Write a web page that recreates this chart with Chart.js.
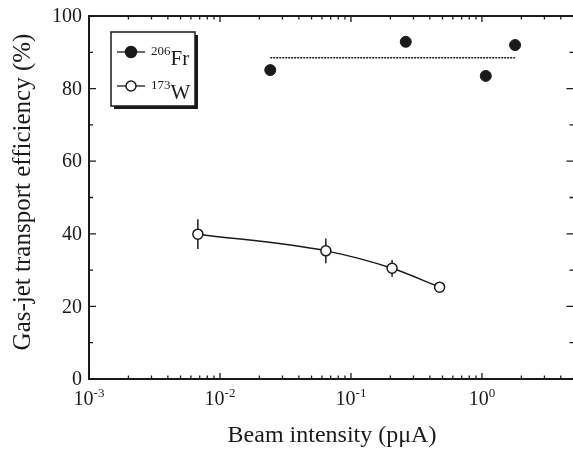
<!DOCTYPE html>
<html>
<head>
<meta charset="utf-8">
<script src="https://cdn.jsdelivr.net/npm/chart.js@4.4.0/dist/chart.umd.min.js"></script>
<style>
  html, body { margin: 0; padding: 0; background: #fff; overflow: hidden; width: 573px; height: 450px; }
  #wrap { width: 580px; height: 450px; }
</style>
</head>
<body>
<div id="wrap"><canvas id="c" width="580" height="450"></canvas></div>
<script>
// ---- Data ----
const frIntensity = [0.0242, 0.262, 1.07, 1.79];
const frEfficiency = [85.1, 92.9, 83.5, 92.0];
const frMeanLevel = 88.5;
const frMeanRange = [0.0242, 1.79];

const wIntensity = [0.00678, 0.0643, 0.206, 0.475];
const wEfficiency = [39.9, 35.3, 30.5, 25.3];
const wError = [4.1, 3.4, 2.3, 0];

const xDecadeExponents = [-3, -2, -1, 0];
const yTickValues = [0, 20, 40, 60, 80, 100];
const yMinorValues = [10, 30, 50, 70, 90];

const xTitle = 'Beam intensity (p\u03BCA)';
const yTitle = 'Gas-jet transport efficiency (%)';
const legendItems = [
  { mass: '206', symbol: 'Fr', filled: true },
  { mass: '173', symbol: 'W', filled: false }
];

const FONT = '"Liberation Serif", "Times New Roman", serif';
const INK = '#1a1a1a';

const errorBarPlugin = {
  id: 'errorBars',
  beforeDatasetsDraw(chart) {
    const { ctx, scales: { x, y } } = chart;
    ctx.save();
    ctx.strokeStyle = INK;
    ctx.lineWidth = 1.5;
    wIntensity.forEach((v, i) => {
      if (!wError[i]) return;
      const px = x.getPixelForValue(v);
      ctx.beginPath();
      ctx.moveTo(px, y.getPixelForValue(wEfficiency[i] - wError[i]));
      ctx.lineTo(px, y.getPixelForValue(wEfficiency[i] + wError[i]));
      ctx.stroke();
    });
    ctx.restore();
  }
};

const axesPlugin = {
  id: 'frameAxes',
  afterDraw(chart) {
    const { ctx, chartArea: a, scales: { x, y } } = chart;
    ctx.save();
    ctx.strokeStyle = INK;
    ctx.fillStyle = INK;
    // frame: top, left, bottom (right spine lies beyond the visible window)
    ctx.lineWidth = 2;
    ctx.beginPath();
    ctx.moveTo(a.right + 2, a.top);
    ctx.lineTo(a.left, a.top);
    ctx.lineTo(a.left, a.bottom);
    ctx.lineTo(a.right + 2, a.bottom);
    ctx.stroke();
    ctx.lineWidth = 1.3;
    // x ticks (major + minor), bottom and top
    const xmin = x.min, xmax = x.max;
    for (let e = -3; e <= 1; e++) {
      for (let m = 1; m <= 9; m++) {
        const v = m * Math.pow(10, e);
        if (v < xmin * 0.999 || v > xmax * 1.001) continue;
        const px = x.getPixelForValue(v);
        const len = m === 1 ? 6 : 3.5;
        ctx.beginPath();
        ctx.moveTo(px, a.bottom); ctx.lineTo(px, a.bottom - len);
        ctx.moveTo(px, a.top); ctx.lineTo(px, a.top + len);
        ctx.stroke();
      }
    }
    // y ticks
    const drawY = (v, len) => {
      const py = y.getPixelForValue(v);
      ctx.beginPath();
      ctx.moveTo(a.left, py); ctx.lineTo(a.left + len, py);
      ctx.moveTo(a.right, py); ctx.lineTo(a.right - len, py);
      ctx.stroke();
    };
    yTickValues.forEach(v => drawY(v, 7));
    yMinorValues.forEach(v => drawY(v, 4));
    // y tick labels
    ctx.font = '20px ' + FONT;
    ctx.textAlign = 'right';
    ctx.textBaseline = 'middle';
    yTickValues.forEach(v => ctx.fillText(String(v), a.left - 7, y.getPixelForValue(v) + 1));
    // x tick labels 10^n
    ctx.textAlign = 'left';
    ctx.textBaseline = 'alphabetic';
    xDecadeExponents.forEach(e => {
      const px = x.getPixelForValue(Math.pow(10, e));
      ctx.font = '20px ' + FONT;
      const w1 = ctx.measureText('10').width;
      ctx.font = '13px ' + FONT;
      const exp = String(e);
      const w2 = ctx.measureText(exp).width;
      const start = px - (w1 + w2) / 2;
      ctx.font = '20px ' + FONT;
      ctx.fillText('10', start, a.bottom + 26);
      ctx.font = '13px ' + FONT;
      ctx.fillText(exp, start + w1, a.bottom + 18);
    });
    // axis titles
    ctx.textAlign = 'center';
    ctx.textBaseline = 'middle';
    ctx.font = '24px ' + FONT;
    ctx.fillText(xTitle, 332, 436);
    ctx.save();
    ctx.translate(23, 192);
    ctx.rotate(-Math.PI / 2);
    ctx.font = '25px ' + FONT;
    ctx.fillText(yTitle, 0, 0);
    ctx.restore();

    // legend box with shadow
    const bx = 111, by = 32, bw = 84, bh = 74;
    ctx.fillStyle = INK;
    ctx.fillRect(bx + 3, by + 3, bw, bh);
    ctx.fillStyle = '#fff';
    ctx.fillRect(bx, by, bw, bh);
    ctx.lineWidth = 1.5;
    ctx.strokeStyle = INK;
    ctx.strokeRect(bx, by, bw, bh);
    legendItems.forEach((it, i) => {
      const cy = 52 + i * 34;
      ctx.lineWidth = 1.3;
      ctx.beginPath();
      ctx.moveTo(117, cy); ctx.lineTo(145, cy);
      ctx.stroke();
      ctx.beginPath();
      ctx.arc(131, cy, it.filled ? 5.5 : 5, 0, Math.PI * 2);
      ctx.fillStyle = it.filled ? INK : '#fff';
      ctx.fill();
      ctx.lineWidth = 1.5;
      ctx.stroke();
      ctx.fillStyle = INK;
      ctx.textAlign = 'left';
      ctx.textBaseline = 'alphabetic';
      ctx.font = '13px ' + FONT;
      ctx.fillText(it.mass, 151, cy + 3);
      const mw = ctx.measureText(it.mass).width;
      ctx.font = '21px ' + FONT;
      ctx.fillText(it.symbol, 151 + mw, cy + 13);
    });
    ctx.restore();
  }
};

new Chart(document.getElementById('c'), {
  type: 'line',
  data: {
    datasets: [
      {
        label: '206Fr mean',
        data: frMeanRange.map(v => ({ x: v, y: frMeanLevel })),
        borderColor: INK,
        borderWidth: 1.4,
        borderDash: [2, 1],
        pointRadius: 0,
        fill: false
      },
      {
        label: '206Fr',
        data: frIntensity.map((v, i) => ({ x: v, y: frEfficiency[i] })),
        showLine: false,
        pointRadius: 5.5,
        pointBackgroundColor: INK,
        pointBorderColor: INK,
        pointBorderWidth: 1
      },
      {
        label: '173W',
        data: wIntensity.map((v, i) => ({ x: v, y: wEfficiency[i] })),
        borderColor: INK,
        borderWidth: 1.5,
        cubicInterpolationMode: 'monotone',
        pointRadius: 5,
        pointBackgroundColor: '#fff',
        pointBorderColor: INK,
        pointBorderWidth: 1.5,
        fill: false
      }
    ]
  },
  options: {
    responsive: false,
    animation: false,
    devicePixelRatio: 1,
    layout: { padding: { left: 89, top: 16, right: 4, bottom: 71 } },
    plugins: { legend: { display: false }, tooltip: { enabled: false } },
    scales: {
      x: { type: 'logarithmic', min: 0.001, max: 5, display: false },
      y: { type: 'linear', min: 0, max: 100, display: false }
    }
  },
  plugins: [errorBarPlugin, axesPlugin]
});
</script>
</body>
</html>
